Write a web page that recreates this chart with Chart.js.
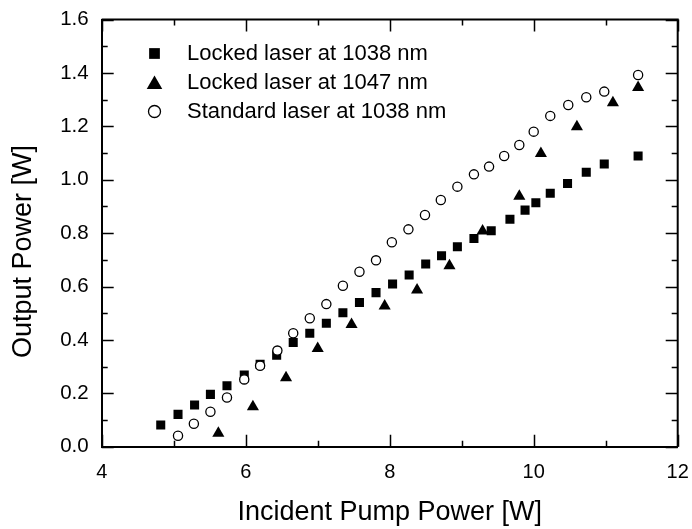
<!DOCTYPE html>
<html>
<head>
<meta charset="utf-8">
<script src="https://cdn.jsdelivr.net/npm/chart.js@4.4.0/dist/chart.umd.min.js"></script>
<style>
  html, body { margin: 0; padding: 0; background: #fff; }
  canvas { display: block; }
</style>
</head>
<body>
<canvas id="chart" width="692" height="529"></canvas>
<script>
// values
const lockedX1038 = [4.82, 5.06, 5.29, 5.51, 5.74, 5.98, 6.20, 6.43, 6.66, 6.89, 7.12, 7.35, 7.58, 7.81,
    8.04, 8.27, 8.50, 8.72, 8.94, 9.17, 9.41, 9.67, 9.88, 10.03, 10.23, 10.47, 10.73, 10.98, 11.45];
const lockedY1038 = [0.081, 0.121, 0.156, 0.196, 0.228, 0.268, 0.309, 0.343, 0.390, 0.425, 0.462, 0.502, 0.540, 0.577,
    0.609, 0.643, 0.684, 0.715, 0.749, 0.780, 0.809, 0.852, 0.886, 0.914, 0.949, 0.986, 1.028, 1.059, 1.089];

const lockedX1047 = [5.62, 6.10, 6.56, 7.00, 7.47, 7.93, 8.38, 8.83, 9.29, 9.80, 10.10, 10.60, 11.10, 11.45];
const lockedY1047 = [0.050, 0.150, 0.258, 0.368, 0.458, 0.527, 0.587, 0.678, 0.808, 0.938, 1.098, 1.198, 1.288, 1.345];

const standardX1038 = [5.06, 5.28, 5.51, 5.74, 5.98, 6.20, 6.44, 6.66, 6.89, 7.12, 7.35, 7.58, 7.81, 8.03,
    8.26, 8.49, 8.71, 8.94, 9.17, 9.38, 9.59, 9.80, 10.00, 10.23, 10.48, 10.73, 10.98, 11.45];
const standardY1038 = [0.041, 0.086, 0.131, 0.184, 0.252, 0.303, 0.360, 0.425, 0.481, 0.534, 0.603, 0.655, 0.698, 0.766,
    0.814, 0.868, 0.924, 0.974, 1.020, 1.049, 1.089, 1.130, 1.180, 1.239, 1.280, 1.309, 1.330, 1.392];

const seriesLabels = ['Locked laser at 1038 nm', 'Locked laser at 1047 nm', 'Standard laser at 1038 nm'];
const xTicks = [4, 6, 8, 10, 12];
const yTicks = [0, 0.2, 0.4, 0.6, 0.8, 1.0, 1.2, 1.4, 1.6];

const FONT = '"Liberation Sans", Arial, Helvetica, sans-serif';

function toPoints(xs, ys) {
    return xs.map((x, i) => ({ x: x, y: ys[i] }));
}

// keep the plot box where the figure has it: no extra room for edge labels
function noEdgePadding(scale) {
    scale.paddingLeft = 0;
    scale.paddingRight = 0;
    scale.paddingTop = 0;
    scale.paddingBottom = 0;
}

// inward ticks on all four sides + closing frame
const frameTicks = {
    id: 'frameTicks',
    afterDraw(chart) {
        const { ctx, chartArea: a, scales } = chart;
        const xs = scales.x, ys = scales.y;
        ctx.save();
        ctx.strokeStyle = '#000';
        ctx.lineWidth = 2;
        ctx.beginPath();
        ctx.moveTo(a.left, a.top);
        ctx.lineTo(a.right, a.top);
        ctx.lineTo(a.right, a.bottom);
        ctx.stroke();

        ctx.lineWidth = 1.5;
        ctx.beginPath();
        for (let v = xTicks[0]; v <= xTicks[xTicks.length - 1]; v += 1) {
            const len = xTicks.includes(v) ? 12 : 6;
            const px = Math.round(xs.getPixelForValue(v)) + 0.5;
            ctx.moveTo(px, a.bottom);
            ctx.lineTo(px, a.bottom - len);
            ctx.moveTo(px, a.top);
            ctx.lineTo(px, a.top + len);
        }
        for (let i = 0; i <= 16; i++) {
            const len = i % 2 === 0 ? 12 : 6;
            const py = Math.round(ys.getPixelForValue(i / 10)) + 0.5;
            ctx.moveTo(a.left, py);
            ctx.lineTo(a.left + len, py);
            ctx.moveTo(a.right, py);
            ctx.lineTo(a.right - len, py);
        }
        ctx.stroke();

        // y axis title
        ctx.fillStyle = '#000';
        ctx.font = '27px ' + FONT;
        ctx.textAlign = 'center';
        ctx.textBaseline = 'middle';
        ctx.translate(24, 251.5);
        ctx.rotate(-Math.PI / 2);
        ctx.fillText('Output Power [W]', 0, 0);
        ctx.restore();

        // legend inside the plot
        ctx.save();
        ctx.font = '22px ' + FONT;
        ctx.textAlign = 'left';
        ctx.textBaseline = 'middle';
        const legendRadius = [7.6, 9, 6];
        chart.data.datasets.forEach((ds, i) => {
            const y = 53.5 + i * 29;
            ctx.fillStyle = ds.backgroundColor;
            ctx.strokeStyle = ds.borderColor;
            ctx.lineWidth = ds.borderWidth;
            Chart.helpers.drawPoint(ctx, {
                pointStyle: ds.pointStyle,
                radius: legendRadius[i],
                rotation: 0,
                borderWidth: ds.borderWidth
            }, 154.5, ds.pointStyle === 'triangle' ? y + 2 : y);
            ctx.fillStyle = '#000';
            ctx.fillText(ds.label, 187, y);
        });
        ctx.restore();
    }
};

new Chart(document.getElementById('chart'), {
    type: 'scatter',
    data: {
        datasets: [
            {
                label: seriesLabels[0],
                data: toPoints(lockedX1038, lockedY1038),
                pointStyle: 'rect',
                pointRadius: 6.4,
                backgroundColor: '#000',
                borderColor: '#000',
                borderWidth: 0,
                order: 3
            },
            {
                label: seriesLabels[1],
                data: toPoints(lockedX1047, lockedY1047),
                pointStyle: 'triangle',
                pointRadius: 7,
                backgroundColor: '#000',
                borderColor: '#000',
                borderWidth: 0,
                order: 1
            },
            {
                label: seriesLabels[2],
                data: toPoints(standardX1038, standardY1038),
                pointStyle: 'circle',
                pointRadius: 4.6,
                backgroundColor: '#fff',
                borderColor: '#000',
                borderWidth: 1.3,
                order: 2
            }
        ]
    },
    options: {
        responsive: false,
        animation: false,
        devicePixelRatio: 1,
        layout: { padding: { left: 0, right: 14.3, top: 19.5, bottom: 0 } },
        plugins: {
            legend: { display: false },
            tooltip: { enabled: false }
        },
        scales: {
            x: {
                type: 'linear',
                min: 4,
                max: 12,
                afterBuildTicks: (scale) => { scale.ticks = xTicks.map(v => ({ value: v })); },
                afterFit: (scale) => { scale.height = 82.3; noEdgePadding(scale); },
                grid: { display: false, drawTicks: false },
                border: { display: true, color: '#000', width: 2 },
                ticks: {
                    color: '#000',
                    padding: 14,
                    maxRotation: 0,
                    font: { family: FONT, size: 20 },
                    callback: (v) => String(v)
                },
                title: {
                    display: true,
                    text: 'Incident Pump Power [W]',
                    color: '#000',
                    font: { family: FONT, size: 27 },
                    padding: { top: 0, bottom: 0 }
                }
            },
            y: {
                type: 'linear',
                min: 0,
                max: 1.6,
                afterBuildTicks: (scale) => { scale.ticks = yTicks.map(v => ({ value: v })); },
                afterFit: (scale) => { scale.width = 101.7; noEdgePadding(scale); },
                grid: { display: false, drawTicks: false },
                border: { display: true, color: '#000', width: 2 },
                ticks: {
                    color: '#000',
                    padding: 13,
                    font: { family: FONT, size: 20.5 },
                    callback: (v) => Number(v).toFixed(1)
                }
            }
        }
    },
    plugins: [frameTicks]
});
</script>
</body>
</html>
